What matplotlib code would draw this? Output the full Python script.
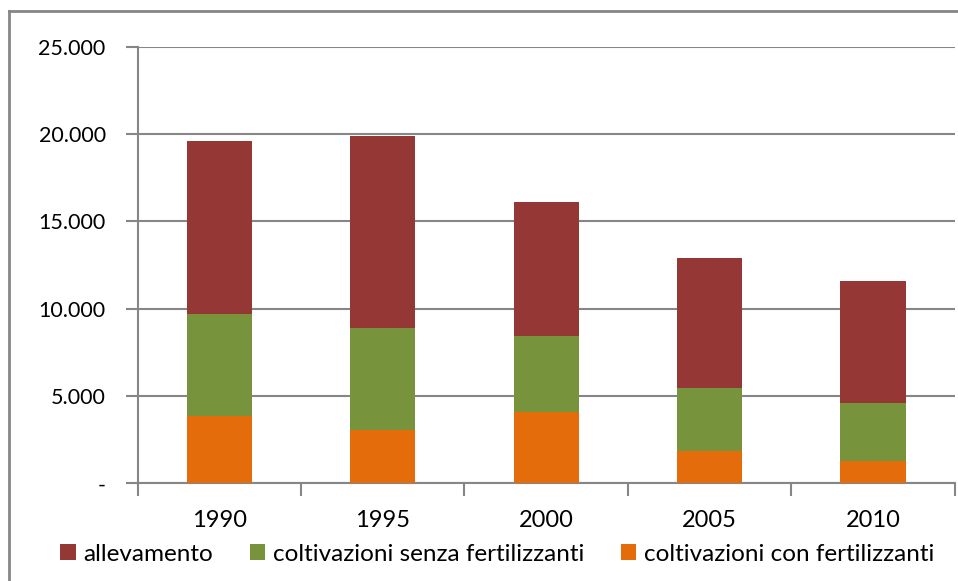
import numpy as np
import matplotlib.pyplot as plt
from matplotlib.lines import Line2D

plt.rcParams['font.family'] = ['Lato', 'DejaVu Sans']

# Dati
anni = ['1990', '1995', '2000', '2005', '2010']
con_fertilizzanti = [3870, 3070, 4100, 1850, 1280]
senza_fertilizzanti = [5820, 5820, 4350, 3610, 3320]
allevamento = [9910, 10990, 7660, 7440, 6990]

etichette = ['allevamento', 'coltivazioni senza fertilizzanti', 'coltivazioni con fertilizzanti']
colori = ['#953735', '#77933C', '#E46C0A']
grigio = '#868686'

fig = plt.figure(figsize=(9.58, 5.81), dpi=100)
ax = fig.add_axes([0.1437, 0.1682, 0.8529, 0.7514])

x = np.arange(len(anni))
base2 = np.array(con_fertilizzanti)
base3 = base2 + np.array(senza_fertilizzanti)
b3 = ax.bar(x, con_fertilizzanti, width=0.40, color=colori[2], zorder=3)
b2 = ax.bar(x, senza_fertilizzanti, bottom=base2, width=0.40, color=colori[1], zorder=3)
b1 = ax.bar(x, allevamento, bottom=base3, width=0.40, color=colori[0], zorder=3)

ax.set_xlim(-0.5, len(anni) - 0.5)
ax.set_ylim(0, 25000)
ax.set_yticks(np.arange(0, 25001, 5000))
ax.set_yticklabels(['-', '5.000', '10.000', '15.000', '20.000', '25.000'])
ax.set_xticks(x)
ax.set_xticklabels(anni)
ax.set_xticks(np.arange(-0.5, len(anni), 1), minor=True)
ax.tick_params(axis='x', which='major', length=0, pad=19, labelsize=17)
ax.tick_params(axis='x', which='minor', length=9, width=1.5, color=grigio, direction='out')
ax.tick_params(axis='y', length=9, width=1.5, color=grigio, labelsize=15.5, pad=14)

ax.yaxis.grid(True, color=grigio, linewidth=1.5, zorder=0)
for s in ['top', 'right']:
    ax.spines[s].set_visible(False)
for s in ['left', 'bottom']:
    ax.spines[s].set_color(grigio)
    ax.spines[s].set_linewidth(1.5)

fig.legend([b1, b2, b3], etichette, loc='center', bbox_to_anchor=(0.519, 0.046),
           ncol=3, frameon=False, fontsize=17.5, handlelength=0.65, handleheight=0.65,
           handletextpad=0.3, columnspacing=1.5)

# bordo esterno dell'area grafico
fig.add_artist(Line2D([9 / 958, 9 / 958], [0, 1 - 11 / 581], transform=fig.transFigure,
                      color=grigio, linewidth=2))
fig.add_artist(Line2D([9 / 958, 1], [1 - 11 / 581, 1 - 11 / 581], transform=fig.transFigure,
                      color=grigio, linewidth=2))

fig.savefig('out.png', dpi=100)
